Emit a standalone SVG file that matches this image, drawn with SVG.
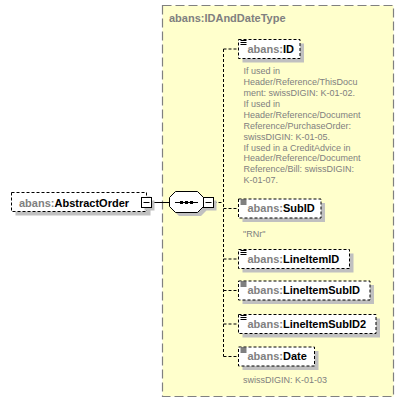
<svg xmlns="http://www.w3.org/2000/svg" width="404" height="402" viewBox="0 0 404 402">
<style>
  .nm { font-family: "Liberation Sans", Arial, sans-serif; font-size: 11px; font-weight: bold; fill: #000; }
  .pf { fill: #808080; }
  .ttl { font-family: "Liberation Sans", Arial, sans-serif; font-size: 11px; font-weight: bold; fill: #808080; }
  .ann { font-family: "Liberation Sans", Arial, sans-serif; font-size: 9px; fill: #808080; }
  .box { fill: #fff; stroke: #000; stroke-width: 1; stroke-dasharray: 3,2; }
  .shd { fill: #c0c0c0; }
  .con { fill: none; stroke: #000; stroke-width: 1; stroke-dasharray: 3,2; }
  .ico { stroke: #000; stroke-width: 1; }
  .mb { fill: #fff; stroke: #000; stroke-width: 1; }
</style>
<defs>
  <g id="icon">
    <rect x="-0.5" y="0" width="7" height="5" fill="#fff"/>
    <line class="ico" x1="0" y1="0.5" x2="6" y2="0.5"/>
    <line class="ico" x1="0" y1="2.5" x2="6" y2="2.5"/>
    <line class="ico" x1="0" y1="4.5" x2="6" y2="4.5"/>
  </g>
</defs>

<g id="IDAndDateType">
  <rect x="162.5" y="5.5" width="231" height="391" fill="#ffffcc" stroke="#808080" stroke-width="1.2" stroke-dasharray="9,4"/>
  <text class="ttl" x="169" y="22">abans:IDAndDateType</text>
</g>

<g id="connectors">
  <line x1="151.5" y1="202.5" x2="169.5" y2="202.5" stroke="#000" stroke-width="1"/>
  <path class="con" d="M213.5 202.5 H223.5"/>
  <path class="con" d="M223.5 49 V356.5"/>
  <path class="con" d="M223.5 49 H238.5"/>
  <path class="con" d="M223.5 208.5 H238.5"/>
  <path class="con" d="M223.5 259 H238.5"/>
  <path class="con" d="M223.5 290.5 H238.5"/>
  <path class="con" d="M223.5 324 H238.5"/>
  <path class="con" d="M223.5 356.5 H238.5"/>
</g>

<g id="AbstractOrder">
  <rect class="shd" x="15.5" y="196.5" width="135" height="19"/>
  <rect class="box" x="11.5" y="192.5" width="135" height="19"/>
  <text class="nm" x="19" y="206.5"><tspan class="pf">abans:</tspan>AbstractOrder</text>
  <rect class="shd" x="144.5" y="200.5" width="10" height="10"/>
  <rect class="mb" x="141.5" y="197.5" width="10" height="10"/>
  <line x1="143.5" y1="202.5" x2="149.5" y2="202.5" stroke="#000"/>
</g>

<g id="sequence">
  <polygon class="shd" points="179,195 201,195 207,201 207,210 201,216 179,216 173,210 173,201"/>
  <polygon points="175.5,191.5 197.5,191.5 203.5,197.5 203.5,206.5 197.5,212.5 175.5,212.5 169.5,206.5 169.5,197.5" fill="#fff" stroke="#000" stroke-width="1"/>
  <line x1="175" y1="202.5" x2="198" y2="202.5" stroke="#000"/>
  <rect x="180" y="201" width="3" height="3" fill="#000"/>
  <rect x="185" y="201" width="3" height="3" fill="#000"/>
  <rect x="190" y="201" width="3" height="3" fill="#000"/>
  <rect class="shd" x="206.5" y="200.5" width="10" height="10"/>
  <rect class="mb" x="203.5" y="197.5" width="10" height="10"/>
  <line x1="205.5" y1="202.5" x2="211.5" y2="202.5" stroke="#000"/>
</g>

<g id="ID">
  <rect class="shd" x="242.5" y="43.5" width="61.5" height="19"/>
  <rect class="box" x="238.5" y="39.5" width="61.5" height="19"/>
  <use href="#icon" x="240.5" y="40"/>
  <text class="nm" x="247.5" y="52.5"><tspan class="pf">abans:</tspan>ID</text>
  <text class="ann" x="243.5">
    <tspan x="243.5" y="74">If used in</tspan>
    <tspan x="243.5" y="85">Header/Reference/ThisDocu</tspan>
    <tspan x="243.5" y="96">ment: swissDIGIN: K-01-02.</tspan>
    <tspan x="243.5" y="106.8">If used in</tspan>
    <tspan x="243.5" y="117.7">Header/Reference/Document</tspan>
    <tspan x="243.5" y="128.6">Reference/PurchaseOrder:</tspan>
    <tspan x="243.5" y="139.6">swissDIGIN: K-01-05.</tspan>
    <tspan x="243.5" y="150.5">If used in a CreditAdvice in</tspan>
    <tspan x="243.5" y="161.4">Header/Reference/Document</tspan>
    <tspan x="243.5" y="172.4">Reference/Bill: swissDIGIN:</tspan>
    <tspan x="243.5" y="183.3">K-01-07.</tspan>
  </text>
</g>

<g id="SubID">
  <rect class="shd" x="242.5" y="203" width="82.5" height="19"/>
  <rect class="box" x="238.5" y="199" width="82.5" height="19"/>
  <use href="#icon" x="240.5" y="199.5"/>
  <text class="nm" x="247.5" y="212"><tspan class="pf">abans:</tspan>SubID</text>
  <text class="ann" x="243" y="236.5">"RNr"</text>
</g>

<g id="LineItemID">
  <rect class="shd" x="242.5" y="253.5" width="111" height="19"/>
  <rect class="box" x="238.5" y="249.5" width="111" height="19"/>
  <use href="#icon" x="240.5" y="250"/>
  <text class="nm" x="247.5" y="262.5"><tspan class="pf">abans:</tspan>LineItemID</text>
</g>

<g id="LineItemSubID">
  <rect class="shd" x="242.5" y="285" width="131.5" height="19"/>
  <rect class="box" x="238.5" y="281" width="131.5" height="19"/>
  <use href="#icon" x="240.5" y="281.5"/>
  <text class="nm" x="247.5" y="294"><tspan class="pf">abans:</tspan>LineItemSubID</text>
</g>

<g id="LineItemSubID2">
  <rect class="shd" x="242.5" y="318.5" width="137.5" height="19"/>
  <rect class="box" x="238.5" y="314.5" width="137.5" height="19"/>
  <use href="#icon" x="240.5" y="315"/>
  <text class="nm" x="247.5" y="327.5"><tspan class="pf">abans:</tspan>LineItemSubID2</text>
</g>

<g id="Date">
  <rect class="shd" x="242.5" y="351" width="76" height="19"/>
  <rect class="box" x="238.5" y="347" width="76" height="19"/>
  <use href="#icon" x="240.5" y="347.5"/>
  <text class="nm" x="247.5" y="360"><tspan class="pf">abans:</tspan>Date</text>
  <text class="ann" x="243" y="383">swissDIGIN: K-01-03</text>
</g>
</svg>
